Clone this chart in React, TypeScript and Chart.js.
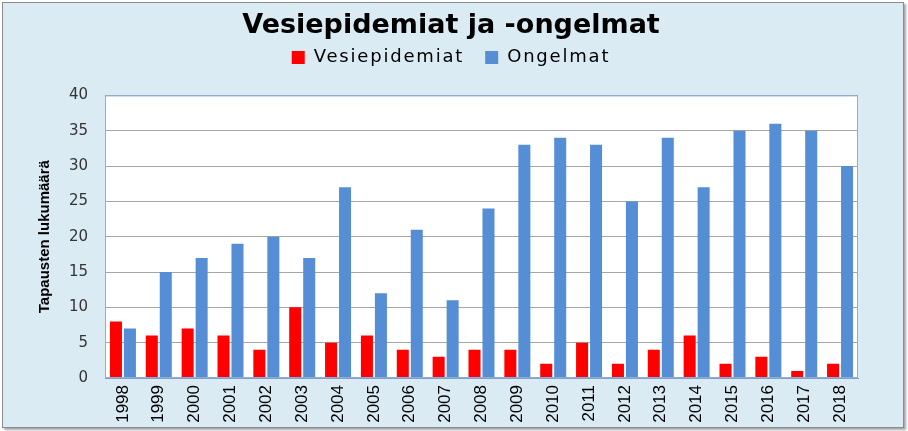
import React, { useEffect, useRef } from "react";
import { Chart, registerables } from "chart.js";

Chart.register(...registerables);

const years = ["1998","1999","2000","2001","2002","2003","2004","2005","2006","2007","2008","2009","2010","2011","2012","2013","2014","2015","2016","2017","2018"];
const vesiepidemiat = [8,6,7,6,4,10,5,6,4,3,4,4,2,5,2,4,6,2,3,1,2];
const ongelmat = [7,15,17,19,20,17,27,12,21,11,24,33,34,33,25,34,27,35,36,35,30];
const yTicks = [0,5,10,15,20,25,30,35,40];

const narrow = "'Liberation Sans Narrow', 'Arial Narrow', 'Liberation Sans', sans-serif";

const areaStyle = {
  id: "areaStyle",
  beforeDraw(chart: any) {
    const { ctx, chartArea } = chart;
    ctx.save();
    ctx.fillStyle = "#FFFFFF";
    ctx.fillRect(chartArea.left, chartArea.top, chartArea.right - chartArea.left, chartArea.bottom - chartArea.top);
    ctx.restore();
  },
  afterDraw(chart: any) {
    const { ctx, chartArea } = chart;
    ctx.save();
    ctx.strokeStyle = "#8EAEDA";
    ctx.lineWidth = 1;
    ctx.strokeRect(chartArea.left + 0.5, chartArea.top + 0.5, chartArea.right - chartArea.left - 1, chartArea.bottom - chartArea.top - 1);
    ctx.restore();
  },
};

export default function App() {
  const ref = useRef<HTMLCanvasElement | null>(null);
  useEffect(() => {
    if (!ref.current) return;
    const defaultLabels = (Chart as any).defaults.plugins.legend.labels.generateLabels;
    const chart = new Chart(ref.current, {
      type: "bar",
      data: {
        labels: years,
        datasets: [
          { label: "Vesiepidemiat", data: vesiepidemiat, backgroundColor: "#FF0000", xAxisID: "x", yAxisID: "y" },
          { label: "Ongelmat", data: ongelmat, backgroundColor: "#558ED5", xAxisID: "x", yAxisID: "y" },
        ],
      },
      options: {
        animation: false,
        responsive: false,
        maintainAspectRatio: false,
        layout: { padding: { left: 0, right: 6, top: 0, bottom: 0 } },
        datasets: { bar: { categoryPercentage: 0.78, barPercentage: 0.86 } } as any,
        plugins: {
          title: {
            display: true,
            text: "Vesiepidemiat ja -ongelmat",
            color: "#000000",
            font: { family: "'DejaVu Sans', sans-serif", size: 27, weight: "bold" },
            padding: { top: 10, bottom: 0 },
          },
          legend: {
            display: true,
            labels: {
              color: "#000000",
              font: { family: "'DejaVu Sans', sans-serif", size: 18 },
              boxWidth: 13,
              boxHeight: 13,
              padding: 6,
              generateLabels: (c: any) => {
                const items = defaultLabels(c);
                items.forEach((it: any, i: number) => {
                  if (i < items.length - 1) it.text = it.text + "  ";
                });
                return items;
              },
            },
          },
          tooltip: { enabled: false },
        },
        scales: {
          x: {
            type: "category",
            position: "bottom",
            offset: true,
            grid: { display: false, drawTicks: false },
            border: { display: true, color: "#7F9FCF", width: 1 },
            ticks: {
              autoSkip: false,
              minRotation: 90,
              maxRotation: 90,
              padding: 7,
              color: "#000000",
              font: { family: narrow, size: 17 },
            },
            afterFit: (s: any) => { s.height = 53; },
          },
          xTop: {
            type: "category",
            position: "top",
            display: true,
            grid: { display: false, drawTicks: false },
            border: { display: false },
            ticks: { display: false },
            afterFit: (s: any) => { s.height = 19; },
          } as any,
          y: {
            type: "linear",
            position: "left",
            min: 0,
            max: 40,
            afterBuildTicks: (s: any) => { s.ticks = yTicks.map((v) => ({ value: v })); },
            grid: { color: "#A6A6A6", lineWidth: 1, drawTicks: false },
            border: { display: true, color: "#7F9FCF", width: 1 },
            ticks: {
              padding: 17,
              color: "#333333",
              font: { family: "'DejaVu Sans', sans-serif", size: 15 },
            },
            title: {
              display: true,
              text: "Tapausten lukumäärä",
              color: "#000000",
              font: { family: narrow, size: 15, weight: "bold" },
              padding: { top: 36, bottom: 0 },
            },
            afterFit: (s: any) => { s.width = 105; },
          },
          yRight: {
            type: "linear",
            position: "right",
            display: true,
            grid: { display: false, drawTicks: false },
            border: { display: false },
            ticks: { display: false },
            afterFit: (s: any) => { s.width = 44; },
          } as any,
        },
      },
      plugins: [areaStyle],
    });

    // legend text in the reference is letter-spaced
    const lg: any = (chart as any).legend;
    if (lg) {
      const wrap = (name: string) => {
        const orig = lg[name].bind(lg);
        lg[name] = (...args: any[]) => {
          const c: any = chart.ctx;
          c.save();
          c.letterSpacing = "1.8px";
          try {
            return orig(...args);
          } finally {
            c.restore();
          }
        };
      };
      wrap("fit");
      wrap("draw");
      chart.update();
    }
    return () => chart.destroy();
  }, []);

  return (
    <div style={{ position: "fixed", left: 0, top: 0, width: 908, height: 431, background: "#FFFFFF" }}>
      <div
        style={{
          position: "absolute",
          left: 2,
          top: 2,
          width: 900,
          height: 424,
          border: "1px solid #8C8C8C",
          boxShadow: "2px 2px 2px rgba(0,0,0,0.35)",
          background: "#DAEBF3",
        }}
      />
      <canvas ref={ref} width={908} height={431} style={{ position: "absolute", left: 0, top: 0, width: 908, height: 431 }} />
    </div>
  );
}
